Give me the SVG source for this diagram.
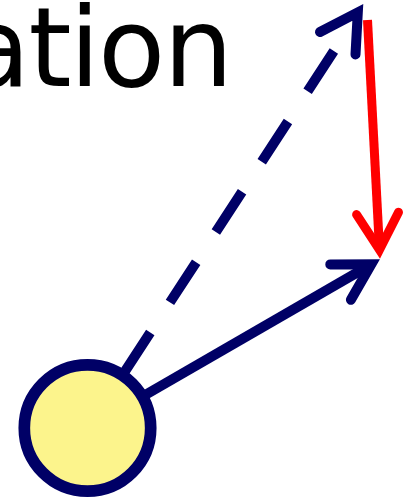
<svg xmlns="http://www.w3.org/2000/svg" width="408" height="502" viewBox="0 0 408 502">
<style>
.lbl{font-family:"DejaVu Sans",sans-serif;font-size:110px;letter-spacing:-2px;fill:#000}
.nv{fill:none;stroke:#000066;stroke-width:10}
.rd{fill:none;stroke:#ff0000;stroke-width:9}
.head{stroke-linecap:round;stroke-linejoin:miter;stroke-miterlimit:10}
</style>
<rect width="408" height="502" fill="#fff"/>
<g id="title"><text class="lbl" x="-37" y="86">ation</text></g>
<g id="connectors">
<path class="nv" d="M88,428 L345,34" stroke-dasharray="48 36" stroke-dashoffset="18"/>
<polyline class="nv head" points="320,32 357.8,12.4 355.5,54.4"/>
<path class="nv" d="M88,428 L371.3,264.3"/>
<polyline class="nv head" points="330.3,264.4 371.3,264.3 350.9,299.8"/>
<path class="rd" d="M367.5,20 L379.5,249.8"/>
<polyline class="rd head" points="356.6,214.6 379.5,249.8 398.5,212.3"/>
</g>
<g id="node"><circle cx="87.5" cy="428" r="63.2" fill="#fcf48c" stroke="#000066" stroke-width="11.7"/></g>
</svg>
